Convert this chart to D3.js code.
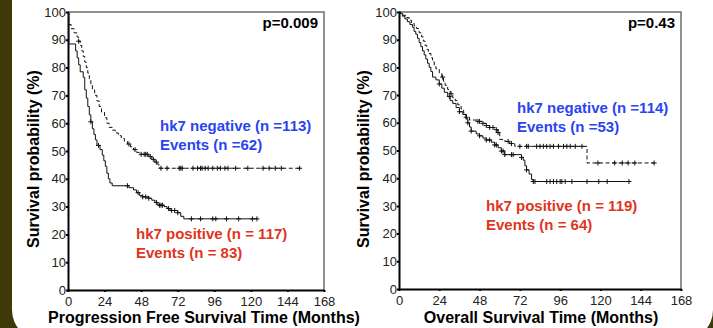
<!DOCTYPE html>
<html>
<head>
<meta charset="utf-8">
<script src="https://cdn.jsdelivr.net/npm/d3@7"></script>
<style>
  body { margin: 0; background: #3d3909; }
  svg { display: block; }
</style>
</head>
<body>
<script>
// axis ticks
const X_TICKS = [0, 24, 48, 72, 96, 120, 144, 168]
const Y_TICKS = [0, 10, 20, 30, 40, 50, 60, 70, 80, 90, 100]

// Progression free survival: [month, survival %] where the curve steps down
const PFS_NEG_STEPS = [[0,100],[0.5,95.5],[2,94],[4,92.5],[6,91],[7,89.5],[8,88],[9,86],[10,84],[11,82],[12,80],[13,78],[14,76],[15,74],[16,72],[17.5,70],[19,68],[20.5,66],[22,64],[24,62],[25.5,60],[27,58.5],[29,57.5],[31,56.5],[33,55.5],[35,54.5],[37,53.5],[39,52.5],[41,51.5],[43,50.5],[45,49.5],[47,48.8],[53,48],[55,47],[57,46],[59,45],[60,43.8]]
const PFS_NEG_END = 152
const PFS_NEG_CENSORED = [7, 40, 44, 48, 50, 51, 52, 54, 56, 58, 61, 65, 73, 74, 75, 82, 85, 87, 88, 90, 92, 95, 98, 100, 103, 105, 110, 118, 128, 132, 136, 140, 152]

const PFS_POS_STEPS = [[0,100],[0.5,88.5],[5,86],[6,83.5],[7,81],[8,78.5],[10,76.5],[11,72],[12,69],[13,66],[14,63],[15,60.5],[16,58],[17,56],[18,54],[19,52],[21,50.5],[22.5,48.5],[23.5,46.5],[24.5,44.5],[25.5,42],[26.5,40],[27.5,38.5],[29,37.5],[40,36.8],[43,36],[45,35],[47,34],[49,33.5],[53,33],[55,32.3],[57,31.5],[59,30.5],[63,30],[65,29.3],[67,28.6],[72,27.8],[74,26.5],[76,25.6]]
const PFS_POS_END = 124
const PFS_POS_CENSORED = [15, 20, 39, 46, 49, 51, 53, 58, 60, 61, 62, 66, 68, 70, 72, 81, 87, 95, 97, 104, 112, 121, 124]

// Overall survival
const OS_NEG_STEPS = [[0,100],[1,99.5],[2.5,98.8],[4,98],[6,97],[7.5,96],[9,95],[10.5,94],[12,92.5],[13.5,91],[14.5,89.5],[15.5,88],[16.5,86.5],[17.5,85],[19,83.5],[20,82],[21,80.5],[22,79.5],[24,78],[25.5,76.5],[26.5,75],[27.5,73.5],[29,72],[30.5,70.5],[32,69],[33.5,68],[35,66.5],[37,65],[38.5,63.5],[40,62],[42,61],[47,60.5],[50,59.8],[52,59],[54,58.3],[57,57.5],[59,56.5],[60,54],[63,53.3],[66,52.5],[69,51.5],[112,45.5]]
const OS_NEG_END = 152
const OS_NEG_CENSORED = [26, 31, 40, 47, 48, 50, 52, 54, 56, 58, 59, 65, 67, 72, 76, 77, 82, 84, 86, 88, 90, 92, 95, 98, 100, 102, 105, 109, 118.5, 128.5, 133, 136.5, 140.5, 152]

const OS_POS_STEPS = [[0,100],[0.5,99.5],[2,98.5],[3.5,97.5],[5,96.5],[6.5,95.5],[8,94.5],[9,93],[10,92],[11,90.5],[12,89],[13,87.5],[14,86],[15,84.5],[16,83],[17,81.5],[18,80],[19,78.5],[20,76.5],[22,75.5],[24,74],[25.5,72.5],[27,71],[29,69.5],[30.5,68],[32,67],[34,65.5],[36,64],[38,63],[40,61.5],[41,60],[42,58.5],[43,57],[46,56],[48,55.3],[50,54.5],[52,53.8],[55,53],[57,52],[59,51],[61,49.8],[63,48.5],[73,47.5],[74,46.5],[75,44.5],[76,43],[77.5,41.5],[79,39.5],[80,38.8]]
const OS_POS_END = 137
const OS_POS_CENSORED = [24, 30, 36, 41, 43, 48, 52, 54, 57, 58, 61, 62, 63, 67, 68, 73, 76, 80, 81, 88, 90, 92, 94, 96, 97, 99, 103, 112, 119, 124, 137]

const BLUE = '#2a45f0'
const RED = '#e0351c'
const FONT = '"Liberation Sans", Arial, sans-serif'

const svg = d3.select('body').append('svg')
    .attr('width', 713)
    .attr('height', 328)
    .style('font-family', FONT)

// white slide panel on olive background
svg.append('rect')
    .attr('x', 12).attr('y', -40)
    .attr('width', 701).attr('height', 380)
    .attr('rx', 30)
    .attr('fill', '#fff')

function panel(opts) {
    const x = d3.scaleLinear().domain([0, 168]).range(opts.xRange)
    const y = d3.scaleLinear().domain([0, 100]).range(opts.yRange)
    const g = svg.append('g')

    // frame top / right in grey
    g.append('path')
        .attr('d', `M${x(0)},${y(100)}H${x(168)}V${y(0)}`)
        .attr('fill', 'none')
        .attr('stroke', '#6e6e6e')
        .attr('stroke-width', 1.5)

    const xAxis = g.append('g')
        .attr('transform', `translate(0,${y(0)})`)
        .call(d3.axisBottom(x).tickValues(X_TICKS).tickSize(2).tickPadding(4.5).tickSizeOuter(0))
    const yAxis = g.append('g')
        .attr('transform', `translate(${x(0)},0)`)
        .call(d3.axisLeft(y).tickValues(Y_TICKS).tickSize(2).tickPadding(0).tickSizeOuter(0))
    for (const ax of [xAxis, yAxis]) {
        ax.select('.domain').attr('stroke', '#000').attr('stroke-width', 2)
        ax.selectAll('.tick line').attr('stroke', '#000').attr('stroke-width', 2)
        ax.selectAll('.tick text')
            .attr('fill', '#222')
            .style('font-family', FONT)
            .style('font-size', '13px')
    }

    const line = d3.line()
        .x(d => x(d[0]))
        .y(d => y(d[1]))
        .curve(d3.curveStepAfter)

    for (const s of opts.series) {
        const pts = [...s.steps, [s.end, s.steps[s.steps.length - 1][1]]]
        g.append('path')
            .attr('d', line(pts))
            .attr('fill', 'none')
            .attr('stroke', '#111')
            .attr('stroke-width', 1)
            .attr('stroke-dasharray', s.dash || null)

        const bis = d3.bisector(d => d[0]).right
        const surv = t => s.steps[Math.max(0, bis(s.steps, t) - 1)][1]
        g.append('g')
            .selectAll('path')
            .data(s.censored)
            .join('path')
            .attr('transform', t => `translate(${x(t)},${y(surv(t))})`)
            .attr('d', 'M-2.5,0H2.5M0,-2.5V2.5')
            .attr('stroke', '#111')
            .attr('stroke-width', 1)
    }

    g.append('text')
        .attr('x', x(168) - 6).attr('y', 28)
        .attr('text-anchor', 'end')
        .style('font-size', '15px').style('font-weight', 'bold')
        .text(opts.pValue)

    const label = (lines, lx, ly, color) => {
        const t = g.append('text')
            .attr('x', lx).attr('y', ly)
            .attr('fill', color)
            .style('font-size', '15px').style('font-weight', 'bold')
        lines.forEach((l, i) => t.append('tspan').attr('x', lx).attr('dy', i ? 18.5 : 0).text(l))
    }
    label(opts.negLabel, opts.negPos[0], opts.negPos[1], BLUE)
    label(opts.posLabel, opts.posPos[0], opts.posPos[1], RED)

    g.append('text')
        .attr('x', opts.xTitleX).attr('y', 322.5)
        .attr('text-anchor', 'middle')
        .style('font-size', '16px').style('font-weight', 'bold')
        .text(opts.xTitle)

    g.append('text')
        .attr('transform', `translate(${opts.yTitleX},159) rotate(-90)`)
        .attr('text-anchor', 'middle')
        .style('font-size', '16px').style('font-weight', 'bold')
        .text('Survival probability (%)')
}

panel({
    xRange: [68, 324], yRange: [290, 12],
    pValue: 'p=0.009',
    series: [
        {steps: PFS_NEG_STEPS, end: PFS_NEG_END, censored: PFS_NEG_CENSORED, dash: '4,2.5'},
        {steps: PFS_POS_STEPS, end: PFS_POS_END, censored: PFS_POS_CENSORED},
    ],
    negLabel: ['hk7 negative (n =113)', 'Events (n =62)'], negPos: [160, 131],
    posLabel: ['hk7 positive (n = 117)', 'Events (n = 83)'], posPos: [136, 239],
    xTitle: 'Progression Free Survival Time (Months)', xTitleX: 204,
    yTitleX: 39,
})

panel({
    xRange: [399, 681], yRange: [289, 12],
    pValue: 'p=0.43',
    series: [
        {steps: OS_NEG_STEPS, end: OS_NEG_END, censored: OS_NEG_CENSORED, dash: '4,2.5'},
        {steps: OS_POS_STEPS, end: OS_POS_END, censored: OS_POS_CENSORED},
    ],
    negLabel: ['hk7 negative (n =114)', 'Events (n =53)'], negPos: [517, 113],
    posLabel: ['hk7 positive (n = 119)', 'Events (n = 64)'], posPos: [486, 211],
    xTitle: 'Overall Survival Time (Months)', xTitleX: 541,
    yTitleX: 369,
})
</script>
</body>
</html>
